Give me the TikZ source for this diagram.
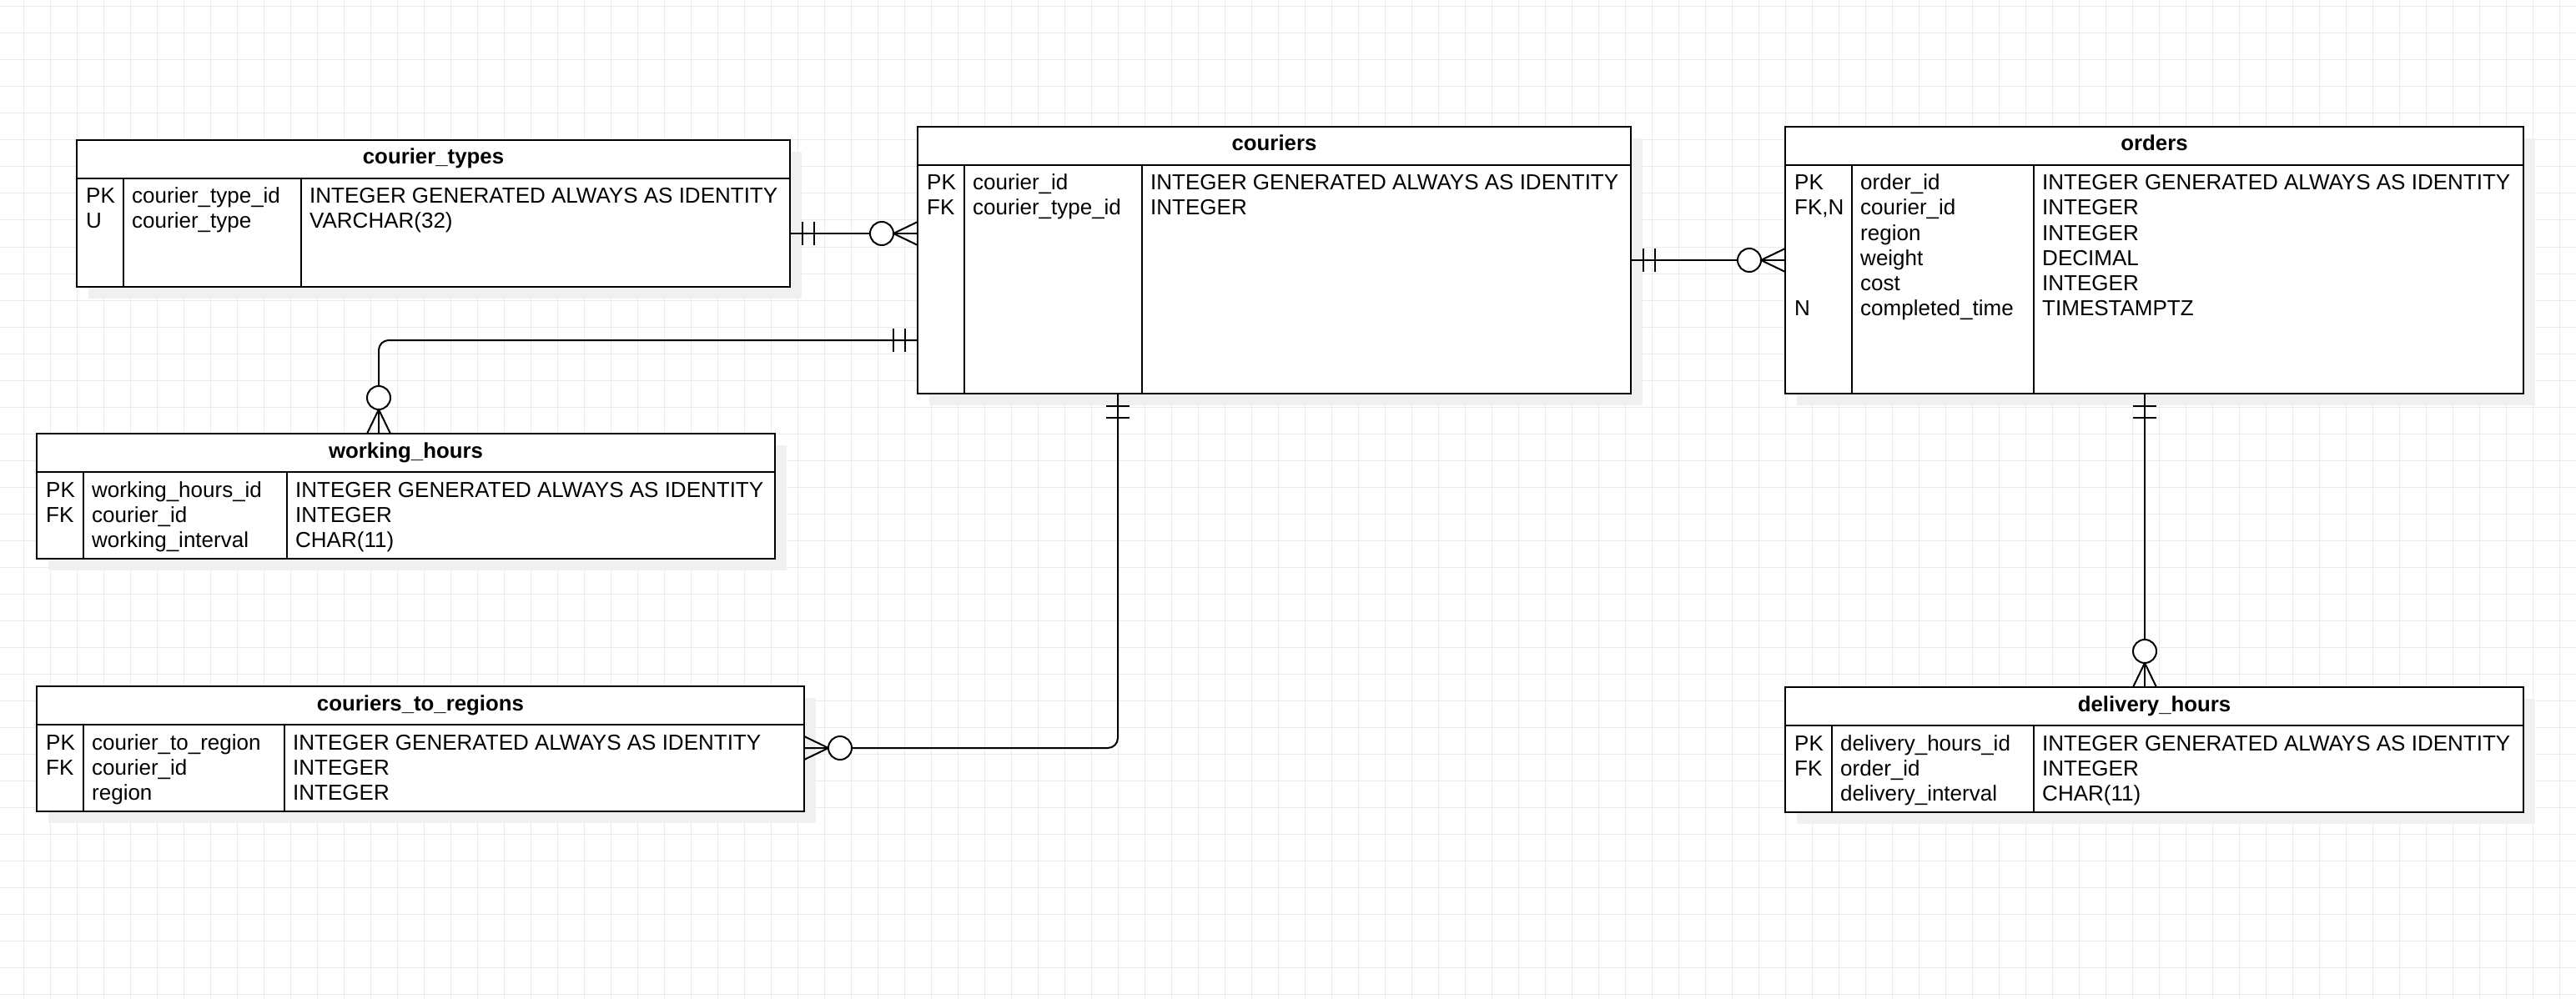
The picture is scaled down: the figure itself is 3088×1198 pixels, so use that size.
\documentclass[tikz,border=0pt]{standalone}
\usepackage{fontspec}
\setmainfont{Liberation Sans}
\usepackage{tikz}
\usetikzlibrary{calc, shadows}
\definecolor{gridgray}{HTML}{EBEBEB}
\definecolor{shadowgray}{HTML}{F0F0F0}

\begin{document}
\begin{tikzpicture}[x=1pt, y=-1pt,
    gridline/.style={draw=gridgray, line width=1pt},
    entity/.style={draw, line width=2pt, fill=white, inner sep=0pt, outer sep=0pt, anchor=north west,
        general shadow={fill=shadowgray, shadow xshift=14pt, shadow yshift=-14pt}},
    sepline/.style={line width=2pt},
    colline/.style={line width=1.3pt},
    title/.style={anchor=base, inner sep=0pt, font=\fontsize{25.8}{30}\selectfont\bfseries},
    cell/.style={anchor=base west, inner sep=0pt, font=\fontsize{26}{30}\selectfont},
    rel/.style={line width=2pt, rounded corners=12pt},
    pics/onlyone/.style={code={\draw[line width=2pt] (15,-14) -- (15,14) (29,-14) -- (29,14);}},
    pics/zeromany/.style={code={\draw[line width=2pt] (0,-14) -- (29,0) -- (0,14);
        \draw[line width=2pt, fill=white] (43,0) circle (14);}}]

    % page and grid
    \fill[white] (0,0) rectangle (3088,1198);
    \useasboundingbox (0,0) rectangle (3088,1198);
    \foreach \gx in {0,...,95} \draw[gridline] (28+32*\gx,0) -- (28+32*\gx,1198);
    \foreach \gy in {0,...,37} \draw[gridline] (0,8+32*\gy) -- (3088,8+32*\gy);

    % courier_types
    \node[entity, minimum width=855pt, minimum height=176pt] (courier_types) at (92,168) {};
    \draw[sepline] ($(courier_types.north west)+(0,46)$) -- ($(courier_types.north east)+(0,46)$);
    \draw[colline] ($(courier_types.north west)+(56,46)$) -- ($(courier_types.south west)+(56,0)$);
    \draw[colline] ($(courier_types.north west)+(269,46)$) -- ($(courier_types.south west)+(269,0)$);
    \node[title] (courier_types-t) at ($(courier_types.north)+(0,29)$) {courier\_types};
    \foreach \k/\i in {PK/0, U/1}
        \node[cell] (courier_types-k\i) at ($(courier_types.north west)+(11,76+30*\i)$) {\k};
    \foreach \n/\t [count=\i from 0] in {courier\_type\_id/INTEGER GENERATED ALWAYS AS IDENTITY, courier\_type/VARCHAR(32)} {
        \node[cell] (courier_types-n\i) at ($(courier_types.north west)+(66,76+30*\i)$) {\n};
        \node[cell] (courier_types-v\i) at ($(courier_types.north west)+(279,76+30*\i)$) {\t};
    }

    % couriers
    \node[entity, minimum width=855pt, minimum height=320pt] (couriers) at (1100,152) {};
    \draw[sepline] ($(couriers.north west)+(0,46)$) -- ($(couriers.north east)+(0,46)$);
    \draw[colline] ($(couriers.north west)+(56,46)$) -- ($(couriers.south west)+(56,0)$);
    \draw[colline] ($(couriers.north west)+(269,46)$) -- ($(couriers.south west)+(269,0)$);
    \node[title] (couriers-t) at ($(couriers.north)+(0,29)$) {couriers};
    \foreach \k/\i in {PK/0, FK/1}
        \node[cell] (couriers-k\i) at ($(couriers.north west)+(11,76+30*\i)$) {\k};
    \foreach \n/\t [count=\i from 0] in {courier\_id/INTEGER GENERATED ALWAYS AS IDENTITY, courier\_type\_id/INTEGER} {
        \node[cell] (couriers-n\i) at ($(couriers.north west)+(66,76+30*\i)$) {\n};
        \node[cell] (couriers-v\i) at ($(couriers.north west)+(279,76+30*\i)$) {\t};
    }

    % orders
    \node[entity, minimum width=885pt, minimum height=320pt] (orders) at (2140,152) {};
    \draw[sepline] ($(orders.north west)+(0,46)$) -- ($(orders.north east)+(0,46)$);
    \draw[colline] ($(orders.north west)+(80,46)$) -- ($(orders.south west)+(80,0)$);
    \draw[colline] ($(orders.north west)+(298,46)$) -- ($(orders.south west)+(298,0)$);
    \node[title] (orders-t) at ($(orders.north)+(0,29)$) {orders};
    \foreach \k/\i in {PK/0, {FK,N}/1, N/5}
        \node[cell] (orders-k\i) at ($(orders.north west)+(11,76+30*\i)$) {\k};
    \foreach \n/\t [count=\i from 0] in {order\_id/INTEGER GENERATED ALWAYS AS IDENTITY, courier\_id/INTEGER,
        region/INTEGER, weight/DECIMAL, cost/INTEGER, completed\_time/TIMESTAMPTZ} {
        \node[cell] (orders-n\i) at ($(orders.north west)+(90,76+30*\i)$) {\n};
        \node[cell] (orders-v\i) at ($(orders.north west)+(308,76+30*\i)$) {\t};
    }

    % working_hours
    \node[entity, minimum width=885pt, minimum height=150pt] (working_hours) at (44,520) {};
    \draw[sepline] ($(working_hours.north west)+(0,46)$) -- ($(working_hours.north east)+(0,46)$);
    \draw[colline] ($(working_hours.north west)+(56,46)$) -- ($(working_hours.south west)+(56,0)$);
    \draw[colline] ($(working_hours.north west)+(300,46)$) -- ($(working_hours.south west)+(300,0)$);
    \node[title] (working_hours-t) at ($(working_hours.north)+(0,29)$) {working\_hours};
    \foreach \k/\i in {PK/0, FK/1}
        \node[cell] (working_hours-k\i) at ($(working_hours.north west)+(11,76+30*\i)$) {\k};
    \foreach \n/\t [count=\i from 0] in {working\_hours\_id/INTEGER GENERATED ALWAYS AS IDENTITY, courier\_id/INTEGER,
        working\_interval/CHAR(11)} {
        \node[cell] (working_hours-n\i) at ($(working_hours.north west)+(66,76+30*\i)$) {\n};
        \node[cell] (working_hours-v\i) at ($(working_hours.north west)+(310,76+30*\i)$) {\t};
    }

    % couriers_to_regions
    \node[entity, minimum width=920pt, minimum height=150pt] (couriers_to_regions) at (44,823) {};
    \draw[sepline] ($(couriers_to_regions.north west)+(0,46)$) -- ($(couriers_to_regions.north east)+(0,46)$);
    \draw[colline] ($(couriers_to_regions.north west)+(56,46)$) -- ($(couriers_to_regions.south west)+(56,0)$);
    \draw[colline] ($(couriers_to_regions.north west)+(297,46)$) -- ($(couriers_to_regions.south west)+(297,0)$);
    \node[title] (couriers_to_regions-t) at ($(couriers_to_regions.north)+(0,29)$) {couriers\_to\_regions};
    \foreach \k/\i in {PK/0, FK/1}
        \node[cell] (couriers_to_regions-k\i) at ($(couriers_to_regions.north west)+(11,76+30*\i)$) {\k};
    \foreach \n/\t [count=\i from 0] in {courier\_to\_region/INTEGER GENERATED ALWAYS AS IDENTITY, courier\_id/INTEGER,
        region/INTEGER} {
        \node[cell] (couriers_to_regions-n\i) at ($(couriers_to_regions.north west)+(66,76+30*\i)$) {\n};
        \node[cell] (couriers_to_regions-v\i) at ($(couriers_to_regions.north west)+(307,76+30*\i)$) {\t};
    }

    % delivery_hours
    \node[entity, minimum width=885pt, minimum height=150pt] (delivery_hours) at (2140,824) {};
    \draw[sepline] ($(delivery_hours.north west)+(0,46)$) -- ($(delivery_hours.north east)+(0,46)$);
    \draw[colline] ($(delivery_hours.north west)+(56,46)$) -- ($(delivery_hours.south west)+(56,0)$);
    \draw[colline] ($(delivery_hours.north west)+(298,46)$) -- ($(delivery_hours.south west)+(298,0)$);
    \node[title] (delivery_hours-t) at ($(delivery_hours.north)+(0,29)$) {delivery\_hours};
    \foreach \k/\i in {PK/0, FK/1}
        \node[cell] (delivery_hours-k\i) at ($(delivery_hours.north west)+(11,76+30*\i)$) {\k};
    \foreach \n/\t [count=\i from 0] in {delivery\_hours\_id/INTEGER GENERATED ALWAYS AS IDENTITY, order\_id/INTEGER,
        delivery\_interval/CHAR(11)} {
        \node[cell] (delivery_hours-n\i) at ($(delivery_hours.north west)+(66,76+30*\i)$) {\n};
        \node[cell] (delivery_hours-v\i) at ($(delivery_hours.north west)+(308,76+30*\i)$) {\t};
    }

    % relations
    \coordinate (ct-r) at ($(courier_types.north east)+(0,112)$);
    \coordinate (ct-l) at (ct-r -| couriers.west);
    \draw[rel] (ct-r) -- (ct-l);
    \pic at (ct-r) {onlyone};
    \pic[rotate=180] at (ct-l) {zeromany};

    \coordinate (cw) at ($(couriers.north west)+(0,256)$);
    \coordinate (wh-t) at ($(working_hours.north west)+(410,0)$);
    \draw[rel] (cw) -| (wh-t);
    \pic[rotate=180] at (cw) {onlyone};
    \pic[rotate=90] at (wh-t) {zeromany};

    \coordinate (cb) at ($(couriers.south west)+(240,0)$);
    \coordinate (cr-r) at ($(couriers_to_regions.north east)+(0,74)$);
    \draw[rel] (cb) |- (cr-r);
    \pic[rotate=-90] at (cb) {onlyone};
    \pic at (cr-r) {zeromany};

    \draw[rel] (couriers.east) -- (orders.west);
    \pic at (couriers.east) {onlyone};
    \pic[rotate=180] at (orders.west) {zeromany};

    \coordinate (ob) at ($(orders.south west)+(431,0)$);
    \coordinate (dh-t) at (ob |- delivery_hours.north);
    \draw[rel] (ob) -- (dh-t);
    \pic[rotate=-90] at (ob) {onlyone};
    \pic[rotate=90] at (dh-t) {zeromany};
\end{tikzpicture}
\end{document}
